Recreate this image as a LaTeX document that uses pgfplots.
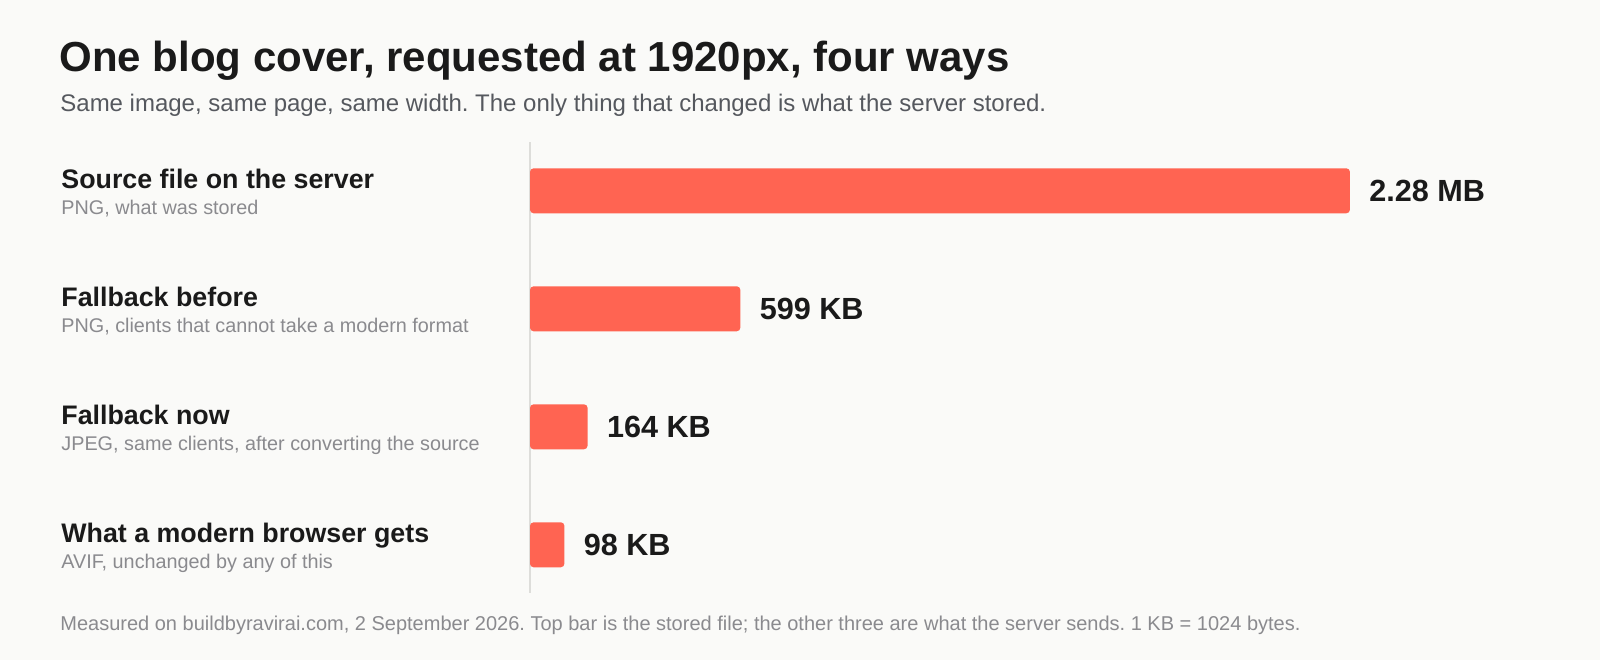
\documentclass[border=0pt]{standalone}
\usepackage{fontspec}
\setmainfont{Liberation Sans}
\usepackage{pgfplots}
\pgfplotsset{compat=1.18}

\definecolor{bg}{HTML}{FAFAF8}
\definecolor{ink}{HTML}{1A1A1A}
\definecolor{subtl}{HTML}{55585E}
\definecolor{muted}{HTML}{8A8A8E}
\definecolor{barclr}{HTML}{FF6452}
\definecolor{rule}{HTML}{DDDDDA}

% two-line category label: bold name over a grey note
\newcommand{\cat}[2]{\vtop{\baselineskip=13pt
  \hbox{\color{ink}\fontsize{13.4}{16}\selectfont\bfseries #1}
  \hbox{\color{muted}\fontsize{9.9}{12}\selectfont #2}}}

\begin{document}
\frenchspacing
\begin{tikzpicture}
  % canvas: 1px of the reference = 0.5pt
  \fill[bg] (0,0) rectangle (800pt,-330pt);
  \path[use as bounding box] (0,0) rectangle (800pt,-330pt);

  \node[anchor=base west, inner sep=0pt, text=ink, font=\fontsize{21}{25}\selectfont\bfseries]
    at (29.6pt,-35.85pt) {One blog cover, requested at 1920px, four ways};
  \node[anchor=base west, inner sep=0pt, text=subtl, font=\fontsize{12}{14}\selectfont]
    at (30pt,-55.85pt) {Same image, same page, same width. The only thing that changed is what the server stored.};

  \begin{axis}[
      at={(265pt,-71.2pt)}, anchor=north west,
      scale only axis,
      width=500pt, height=225.38pt,
      xbar, bar width=22.5pt,
      xmin=0, xmax=2847.4,
      ymin=-0.41, ymax=3.41, y dir=reverse,
      enlargelimits=false,
      clip=false,
      axis x line=none,
      axis y line*=left,
      y axis line style={draw=rule, line width=0.75pt},
      xtick=\empty,
      ytick={0,1,2,3},
      major tick length=0pt,
      yticklabels={
        {\cat{Source file on the server}{PNG, what was stored}},
        {\cat{Fallback before}{PNG, clients that cannot take a modern format}},
        {\cat{Fallback now}{JPEG, same clients, after converting the source}},
        {\cat{What a modern browser gets}{AVIF, unchanged by any of this}}
      },
      yticklabel style={anchor=base west, inner sep=0pt, xshift=-234.5pt, yshift=1.35pt},
      point meta=explicit symbolic,
      nodes near coords,
      nodes near coords style={anchor=west, inner sep=0pt, xshift=9.5pt, text=ink,
        font=\fontsize{15.3}{18}\selectfont\bfseries},
    ]
    % sizes in KB (1 KB = 1024 bytes); 2.28 MB = 2334.72 KB
    \addplot[fill=barclr, draw=none, rounded corners=1.8pt] coordinates {
      (2334.72,0) [2.28 MB]
      (599,1) [599 KB]
      (164,2) [164 KB]
      (98,3) [98 KB]
    };
  \end{axis}

  \node[anchor=base west, inner sep=0pt, text=muted, font=\fontsize{10}{12}\selectfont]
    at (30pt,-315pt) {Measured on buildbyravirai.com, 2 September 2026. Top bar is the stored file; the other three are what the server sends. 1 KB = 1024 bytes.};
\end{tikzpicture}
\end{document}
